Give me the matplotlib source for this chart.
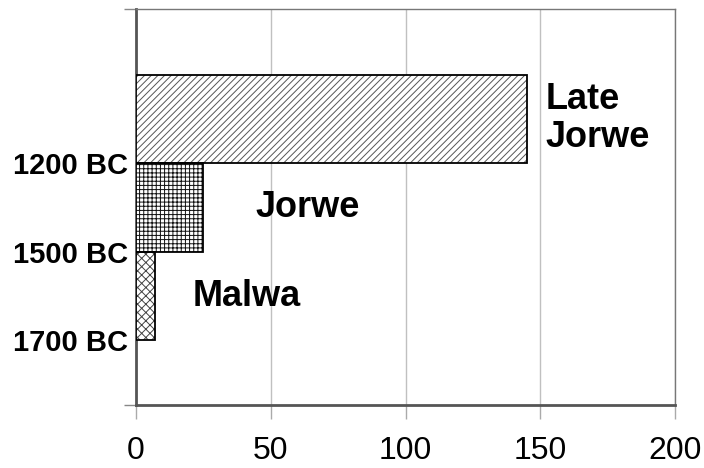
import matplotlib
matplotlib.use("Agg")
import matplotlib.pyplot as plt

# data (bottom to top)
periods = ["Malwa", "Jorwe", "Late\nJorwe"]
values = [7, 25, 145]
tick_labels = ["1700 BC", "1500 BC", "1200 BC"]
hatches = ["xxxx", "++++", "/////"]
hatch_colors = ["#444444", "#111111", "#555555"]
xticks = [0, 50, 100, 150, 200]

plt.rcParams["font.family"] = ["Liberation Sans", "DejaVu Sans"]
plt.rcParams["hatch.linewidth"] = 0.7

fig = plt.figure(figsize=(7.04, 4.68), dpi=100)
ax = fig.add_axes([0.1932, 0.1346, 0.9588 - 0.1932, 0.9808 - 0.1346])

pos = list(range(len(values)))
for p, v, h, hc in zip(pos, values, hatches, hatch_colors):
    # hatch fill, then black outline on top
    ax.barh(p, v, height=1.0, align="edge", color="white",
            edgecolor=hc, linewidth=0, hatch=h, zorder=3)
    ax.barh(p, v, height=1.0, align="edge", fill=False,
            edgecolor="black", linewidth=1.3, zorder=4)

ax.set_xlim(0, 200)
ax.set_ylim(-0.73, 3.74)

ax.set_xticks(xticks)
ax.set_xticklabels([str(t) for t in xticks], fontsize=23)
ax.tick_params(axis="x", length=10, color="#aaaaaa", width=1, pad=12)
ax.grid(axis="x", color="#c0c0c0", linewidth=1, zorder=0)

ax.set_yticks(pos)
ax.set_yticklabels(tick_labels, fontsize=21, fontweight="bold")
ax.tick_params(axis="y", length=0, pad=6)
ax.set_yticks([-0.73, 3.74], minor=True)
ax.tick_params(axis="y", which="minor", length=9, color="#888888", width=1)

for side in ["left", "bottom"]:
    ax.spines[side].set_color("#555555")
    ax.spines[side].set_linewidth(2)
for side in ["top", "right"]:
    ax.spines[side].set_color("#777777")
    ax.spines[side].set_linewidth(1)

# period labels
ax.text(152, 2.5, periods[2], fontsize=26, fontweight="bold",
        va="center", ha="left", linespacing=1.1)
ax.text(44.5, 1.5, periods[1], fontsize=26, fontweight="bold",
        va="center", ha="left")
ax.text(21, 0.5, periods[0], fontsize=26, fontweight="bold",
        va="center", ha="left")

fig.savefig("out.png", dpi=100)
